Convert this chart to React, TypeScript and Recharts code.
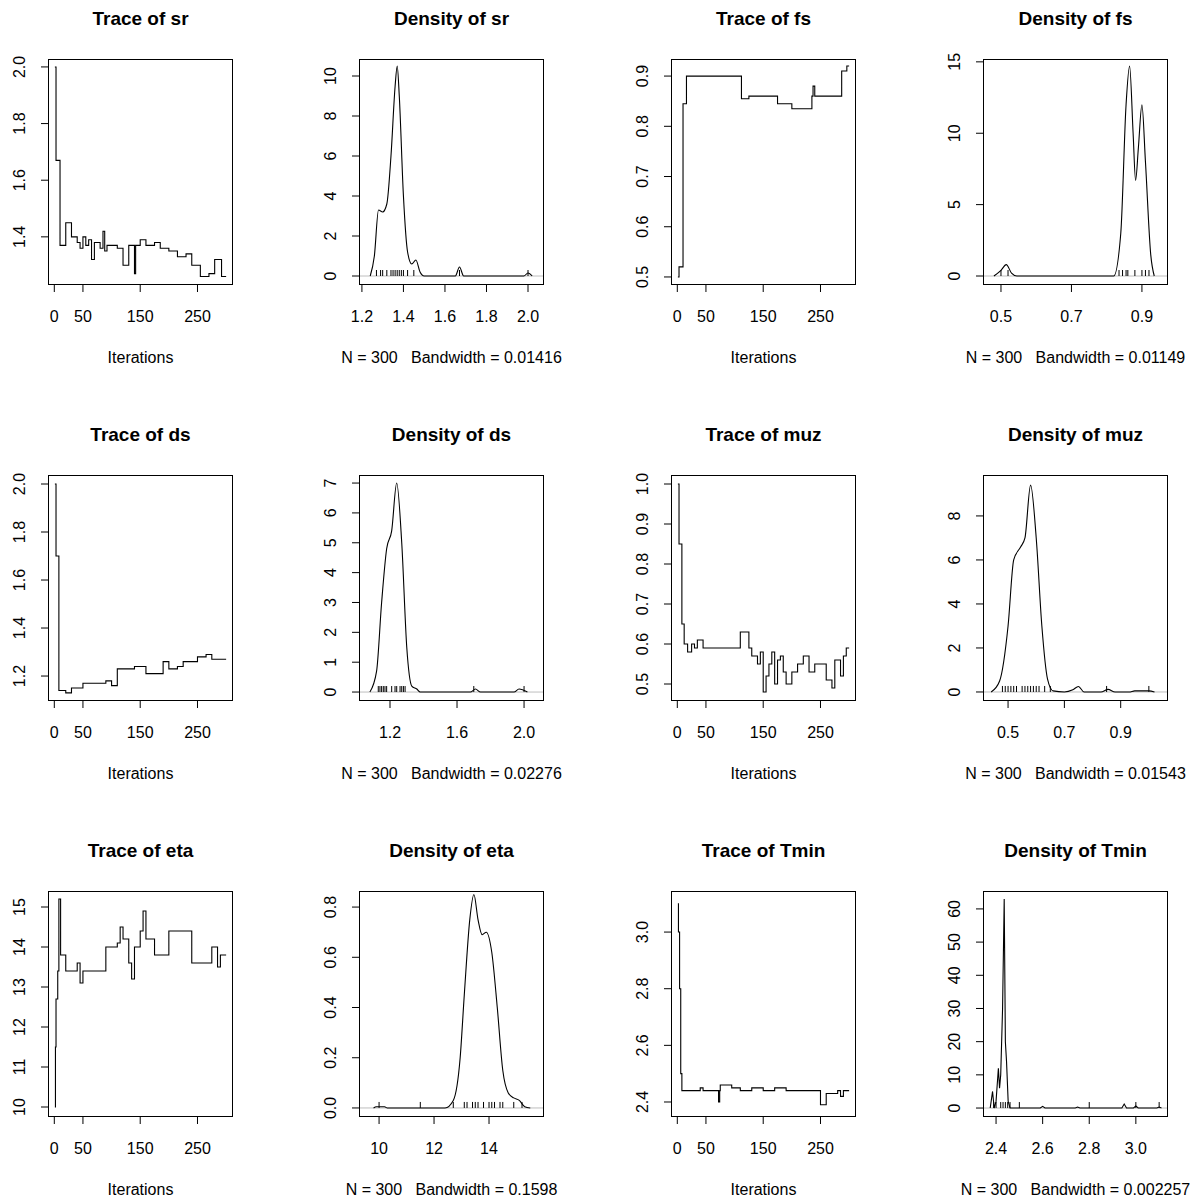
import React from 'react';
import { ComposedChart, Line, Scatter, XAxis, YAxis, ReferenceLine } from 'recharts';

const FONT = '"Liberation Sans", Arial, sans-serif';

// ── Trace data: [iteration, value] ──────────────────────────────────────
const traceSr: [number, number][] = [
  [1, 2.0], [3, 1.67], [10, 1.37], [20, 1.45], [30, 1.4], [40, 1.38], [45, 1.36], [50, 1.4],
  [55, 1.37], [60, 1.39], [65, 1.32], [70, 1.38], [80, 1.36], [85, 1.42], [88, 1.35], [92, 1.37],
  [100, 1.37], [110, 1.36], [120, 1.3], [130, 1.37], [140, 1.27], [142, 1.37], [150, 1.39],
  [160, 1.37], [175, 1.38], [185, 1.36], [200, 1.35], [215, 1.33], [230, 1.34], [240, 1.3],
  [255, 1.26], [270, 1.27], [280, 1.32], [292, 1.26], [300, 1.26],
];
const traceFs: [number, number][] = [
  [1, 0.5], [3, 0.52], [10, 0.845], [16, 0.9], [112, 0.855], [125, 0.86], [175, 0.845],
  [200, 0.835], [235, 0.86], [237, 0.88], [240, 0.86], [287, 0.91], [296, 0.92], [300, 0.92],
];
const traceDs: [number, number][] = [
  [1, 2.0], [3, 1.7], [8, 1.14], [20, 1.13], [30, 1.15], [50, 1.17], [90, 1.18], [100, 1.16],
  [110, 1.23], [140, 1.24], [160, 1.21], [190, 1.26], [200, 1.23], [215, 1.24], [225, 1.26],
  [250, 1.28], [265, 1.29], [275, 1.27], [300, 1.27],
];
const traceMuz: [number, number][] = [
  [1, 1.0], [3, 0.85], [8, 0.65], [12, 0.6], [18, 0.58], [25, 0.6], [30, 0.59], [35, 0.61],
  [45, 0.59], [110, 0.63], [125, 0.59], [130, 0.57], [140, 0.55], [145, 0.58], [150, 0.48],
  [155, 0.52], [160, 0.55], [165, 0.58], [170, 0.5], [175, 0.56], [180, 0.57], [185, 0.53],
  [190, 0.5], [200, 0.53], [210, 0.55], [220, 0.57], [230, 0.53], [240, 0.55], [260, 0.51],
  [270, 0.49], [275, 0.56], [285, 0.52], [290, 0.57], [295, 0.59], [300, 0.59],
];
const traceEta: [number, number][] = [
  [1, 10.0], [2, 11.5], [3, 12.7], [6, 13.4], [8, 15.2], [11, 13.8], [15, 13.8], [20, 13.4],
  [40, 13.6], [45, 13.1], [50, 13.4], [70, 13.4], [90, 14.0], [110, 14.1], [115, 14.5],
  [120, 14.2], [130, 13.6], [135, 13.2], [140, 14.0], [150, 14.4], [155, 14.9], [160, 14.2],
  [175, 13.8], [200, 14.4], [240, 13.6], [275, 14.0], [285, 13.5], [290, 13.8], [300, 13.8],
];
const traceTmin: [number, number][] = [
  [1, 3.1], [2, 3.0], [4, 2.8], [6, 2.5], [8, 2.44], [40, 2.45], [45, 2.44], [72, 2.4],
  [74, 2.44], [75, 2.46], [95, 2.45], [110, 2.44], [130, 2.45], [150, 2.44], [170, 2.45],
  [190, 2.44], [250, 2.39], [260, 2.43], [280, 2.44], [285, 2.42], [290, 2.44], [300, 2.44],
];

// ── Density data: [x, density] ──────────────────────────────────────────
const densSr: [number, number][] = [
  [1.24, 0], [1.26, 1.0], [1.28, 3.3], [1.3, 3.2], [1.32, 3.6], [1.34, 6], [1.36, 9.5], [1.37, 10.5],
  [1.38, 9], [1.4, 4], [1.42, 1.2], [1.44, 0.6], [1.46, 0.8], [1.48, 0.2], [1.5, 0], [1.65, 0],
  [1.67, 0.45], [1.69, 0], [1.98, 0], [2.0, 0.15], [2.02, 0],
];
const densFs: [number, number][] = [
  [0.48, 0], [0.5, 0.4], [0.515, 0.8], [0.53, 0.2], [0.545, 0], [0.82, 0], [0.84, 3], [0.855, 12],
  [0.865, 14.7], [0.875, 10], [0.882, 6.7], [0.89, 9], [0.9, 12], [0.91, 8], [0.925, 1.5], [0.935, 0],
];
const densDs: [number, number][] = [
  [1.08, 0], [1.12, 0.7], [1.15, 3], [1.18, 4.8], [1.21, 5.4], [1.24, 7.0], [1.27, 5], [1.3, 1.5],
  [1.33, 0.2], [1.36, 0.1], [1.38, 0], [1.68, 0], [1.71, 0.1], [1.74, 0], [1.94, 0], [1.97, 0.1], [2.02, 0],
];
const densMuz: [number, number][] = [
  [0.44, 0], [0.47, 0.5], [0.5, 3], [0.52, 6], [0.545, 6.6], [0.56, 7], [0.58, 9.4], [0.6, 7],
  [0.62, 3], [0.64, 0.6], [0.66, 0.05], [0.7, 0], [0.73, 0.1], [0.75, 0.25], [0.77, 0], [0.83, 0],
  [0.855, 0.12], [0.88, 0], [0.93, 0], [0.95, 0.05], [1.0, 0.05], [1.02, 0],
];
const densEta: [number, number][] = [
  [9.8, 0], [9.9, 0.005], [10.2, 0.005], [10.3, 0], [12.4, 0], [12.7, 0.03], [12.95, 0.2], [13.1, 0.45],
  [13.3, 0.75], [13.45, 0.85], [13.6, 0.75], [13.75, 0.69], [13.9, 0.7], [14.1, 0.62], [14.3, 0.4],
  [14.5, 0.15], [14.7, 0.06], [14.9, 0.04], [15.1, 0.03], [15.3, 0.005], [15.5, 0],
];
const densTmin: [number, number][] = [
  [2.375, 0], [2.385, 5], [2.392, 0], [2.4, 2], [2.41, 12], [2.415, 6], [2.42, 10], [2.428, 30],
  [2.435, 63], [2.44, 20], [2.445, 14], [2.452, 2], [2.46, 0], [2.59, 0], [2.6, 0.5], [2.61, 0],
  [2.74, 0], [2.75, 0.3], [2.76, 0], [2.94, 0], [2.95, 1.2], [2.96, 0], [2.99, 0], [3.0, 0.6],
  [3.01, 0], [3.09, 0], [3.1, 0.3], [3.11, 0],
];

// ── Rug positions ───────────────────────────────────────────────────────
const rugSr = [1.27, 1.29, 1.3, 1.32, 1.34, 1.35, 1.36, 1.37, 1.38, 1.39, 1.4, 1.42, 1.45, 1.67, 2.0];
const rugFs = [0.5, 0.52, 0.835, 0.845, 0.855, 0.86, 0.88, 0.9, 0.91, 0.92];
const rugDs = [1.13, 1.14, 1.15, 1.16, 1.17, 1.18, 1.21, 1.23, 1.24, 1.26, 1.27, 1.28, 1.29, 1.7, 2.0];
const rugMuz = [0.48, 0.49, 0.5, 0.51, 0.52, 0.53, 0.55, 0.56, 0.57, 0.58, 0.59, 0.6, 0.61, 0.63, 0.65, 0.85, 1.0];
const rugEta = [10.0, 11.5, 12.7, 13.1, 13.2, 13.4, 13.5, 13.6, 13.8, 14.0, 14.1, 14.2, 14.4, 14.5, 14.9, 15.2];
const rugTmin = [2.39, 2.4, 2.42, 2.43, 2.44, 2.45, 2.46, 2.5, 2.8, 3.0, 3.1];

const iterTicks = [0, 50, 150, 250];

const toPts = (arr: [number, number][]) => arr.map(([x, y]) => ({ x, y }));

type PanelProps = {
  title: string;
  footer: string;
  data: [number, number][];
  step?: boolean;
  linear?: boolean;
  xDomain: [number, number];
  yDomain: [number, number];
  xTicks: number[];
  yTicks: number[];
  xDec?: number;
  yDec?: number;
  col: number;
  row: number;
  rug?: number[];
};

const COL_X = [48, 359, 671, 983];
const ROW_Y = [59, 475, 891];
const PW = 185;
const PH = 226;
const ML = 45;
const MT = 10;
const MR = 10;
const MB = 45;

const XTick = (props: any) => {
  const { x, y, payload, dec } = props;
  return (
    <text x={x} y={y + 28} textAnchor="middle" fontSize={16} fontFamily={FONT} fill="#000">
      {Number(payload.value).toFixed(dec || 0)}
    </text>
  );
};

const YTick = (props: any) => {
  const { x, y, payload, dec } = props;
  const tx = x - 14;
  return (
    <text x={tx} y={y} transform={`rotate(-90, ${tx}, ${y})`} textAnchor="middle"
      fontSize={16} fontFamily={FONT} fill="#000">
      {Number(payload.value).toFixed(dec || 0)}
    </text>
  );
};

const RugMark = (props: any) => {
  const { cx, cy } = props;
  return <line x1={cx} x2={cx} y1={cy} y2={cy - 6} stroke="#000" strokeWidth={1} />;
};

function Panel(p: PanelProps) {
  const left = COL_X[p.col];
  const top = ROW_Y[p.row];
  return (
    <>
      <div style={{ position: 'absolute', left: left - 60, width: PW + 120, top: top - 51,
        textAlign: 'center', fontWeight: 'bold', fontSize: 19, fontFamily: FONT }}>
        {p.title}
      </div>
      <div style={{ position: 'absolute', left: left - 80, width: PW + 160, top: top + 290,
        textAlign: 'center', fontSize: 16, fontFamily: FONT, whiteSpace: 'pre' }}>
        {p.footer}
      </div>
      <div style={{ position: 'absolute', left, top, width: PW, height: PH,
        border: '1px solid #000', boxSizing: 'border-box', pointerEvents: 'none', zIndex: 2 }} />
      <div style={{ position: 'absolute', left: left - ML, top: top - MT }}>
        <ComposedChart width={PW + ML + MR} height={PH + MT + MB}
          margin={{ top: MT, right: MR, left: 0, bottom: 0 }}>
          <XAxis dataKey="x" type="number" domain={p.xDomain} ticks={p.xTicks} allowDataOverflow
            axisLine={false} tickSize={7} tickLine={{ stroke: '#000' }} tick={<XTick dec={p.xDec} />}
            height={MB} interval={0} />
          <YAxis type="number" domain={p.yDomain} ticks={p.yTicks} allowDataOverflow
            axisLine={false} tickSize={7} tickLine={{ stroke: '#000' }} tick={<YTick dec={p.yDec} />}
            width={ML} interval={0} />
          {p.rug && <ReferenceLine y={0} stroke="#bebebe" strokeWidth={1} ifOverflow="hidden" />}
          <Line data={toPts(p.data)} dataKey="y"
            type={p.step ? 'stepAfter' : p.linear ? 'linear' : 'monotone'}
            stroke="#000" strokeWidth={1.1} dot={false} isAnimationActive={false} />
          {p.rug && (
            <Scatter data={p.rug.map(x => ({ x, y: 0 }))} dataKey="y" shape={<RugMark />}
              isAnimationActive={false} />
          )}
        </ComposedChart>
      </div>
    </>
  );
}

export default function App() {
  const it: [number, number] = [-11, 312];
  return (
    <div style={{ position: 'absolute', left: 0, top: 0, width: 1203, height: 1203, background: '#fff' }}>
      <Panel title="Trace of sr" footer="Iterations" data={traceSr} step col={0} row={0}
        xDomain={it} yDomain={[1.23, 2.028]} xTicks={iterTicks} yTicks={[1.4, 1.6, 1.8, 2.0]} yDec={1} />
      <Panel title="Density of sr" footer="N = 300   Bandwidth = 0.01416" data={densSr} col={1} row={0}
        xDomain={[1.186, 2.077]} yDomain={[-0.45, 10.85]} xTicks={[1.2, 1.4, 1.6, 1.8, 2.0]} xDec={1}
        yTicks={[0, 2, 4, 6, 8, 10]} rug={rugSr} />
      <Panel title="Trace of fs" footer="Iterations" data={traceFs} step col={2} row={0}
        xDomain={it} yDomain={[0.484, 0.934]} xTicks={iterTicks} yTicks={[0.5, 0.6, 0.7, 0.8, 0.9]} yDec={1} />
      <Panel title="Density of fs" footer="N = 300   Bandwidth = 0.01149" data={densFs} col={3} row={0}
        xDomain={[0.449, 0.974]} yDomain={[-0.63, 15.2]} xTicks={[0.5, 0.7, 0.9]} xDec={1}
        yTicks={[0, 5, 10, 15]} rug={rugFs} />

      <Panel title="Trace of ds" footer="Iterations" data={traceDs} step col={0} row={1}
        xDomain={it} yDomain={[1.096, 2.0375]} xTicks={iterTicks} yTicks={[1.2, 1.4, 1.6, 1.8, 2.0]} yDec={1} />
      <Panel title="Density of ds" footer="N = 300   Bandwidth = 0.02276" data={densDs} col={1} row={1}
        xDomain={[1.015, 2.119]} yDomain={[-0.3, 7.27]} xTicks={[1.2, 1.6, 2.0]} xDec={1}
        yTicks={[0, 1, 2, 3, 4, 5, 6, 7]} rug={rugDs} />
      <Panel title="Trace of muz" footer="Iterations" data={traceMuz} step col={2} row={1}
        xDomain={it} yDomain={[0.4575, 1.0225]} xTicks={iterTicks} yTicks={[0.5, 0.6, 0.7, 0.8, 0.9, 1.0]} yDec={1} />
      <Panel title="Density of muz" footer="N = 300   Bandwidth = 0.01543" data={densMuz} col={3} row={1}
        xDomain={[0.411, 1.068]} yDomain={[-0.41, 9.86]} xTicks={[0.5, 0.7, 0.9]} xDec={1}
        yTicks={[0, 2, 4, 6, 8]} rug={rugMuz} />

      <Panel title="Trace of eta" footer="Iterations" data={traceEta} step col={0} row={2}
        xDomain={it} yDomain={[9.75, 15.4]} xTicks={iterTicks} yTicks={[10, 11, 12, 13, 14, 15]} />
      <Panel title="Density of eta" footer="N = 300   Bandwidth = 0.1598" data={densEta} col={1} row={2}
        xDomain={[9.27, 16.0]} yDomain={[-0.036, 0.864]} xTicks={[10, 12, 14]}
        yTicks={[0, 0.2, 0.4, 0.6, 0.8]} yDec={1} rug={rugEta} />
      <Panel title="Trace of Tmin" footer="Iterations" data={traceTmin} step col={2} row={2}
        xDomain={it} yDomain={[2.347, 3.145]} xTicks={iterTicks} yTicks={[2.4, 2.6, 2.8, 3.0]} yDec={1} />
      <Panel title="Density of Tmin" footer="N = 300   Bandwidth = 0.002257" data={densTmin} linear col={3} row={2}
        xDomain={[2.344, 3.138]} yDomain={[-2.7, 65.4]} xTicks={[2.4, 2.6, 2.8, 3.0]} xDec={1}
        yTicks={[0, 10, 20, 30, 40, 50, 60]} rug={rugTmin} />
    </div>
  );
}
